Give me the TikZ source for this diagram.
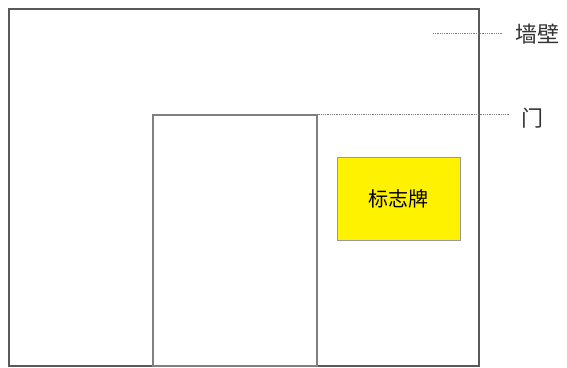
\documentclass[tikz,border=0pt]{standalone}
\usepackage{fontspec}
\newfontfamily\cjk{Noto Sans CJK SC}
\begin{document}
\begin{tikzpicture}[x=1pt,y=-1pt,
  box/.style={draw, inner sep=0pt, anchor=north west},
  wallbox/.style={box, draw=black!65, line width=1.6pt},
  doorbox/.style={box, draw=black!50, line width=1.5pt},
  signbox/.style={box, draw=black!40, fill=yellow, line width=0.8pt, font=\cjk\fontsize{20}{24}\selectfont},
  lbl/.style={font=\cjk\fontsize{22}{24}\selectfont, inner sep=0pt, anchor=west, text=black!80},
  leader/.style={draw=black!50, densely dotted, line width=0.8pt}]
\useasboundingbox (0,0) rectangle (567,367);
\node[wallbox, minimum width=470pt, minimum height=357pt] (wall) at (8,8) {};
\node[doorbox, minimum width=164pt, minimum height=251pt] (door) at (152,114) {};
\node[signbox, minimum width=123pt, minimum height=83pt] (sign) at (337,157) {标志牌};
\node[lbl] (wallLbl) at (515,34) {墙壁};
\node[lbl] (doorLbl) at (521,118) {门};
\coordinate (wallPt) at (433,33);
\path[leader] (wallPt) -- (503,33);
\path[leader] (door.north east) -- ++(192,0);
\end{tikzpicture}
\end{document}
